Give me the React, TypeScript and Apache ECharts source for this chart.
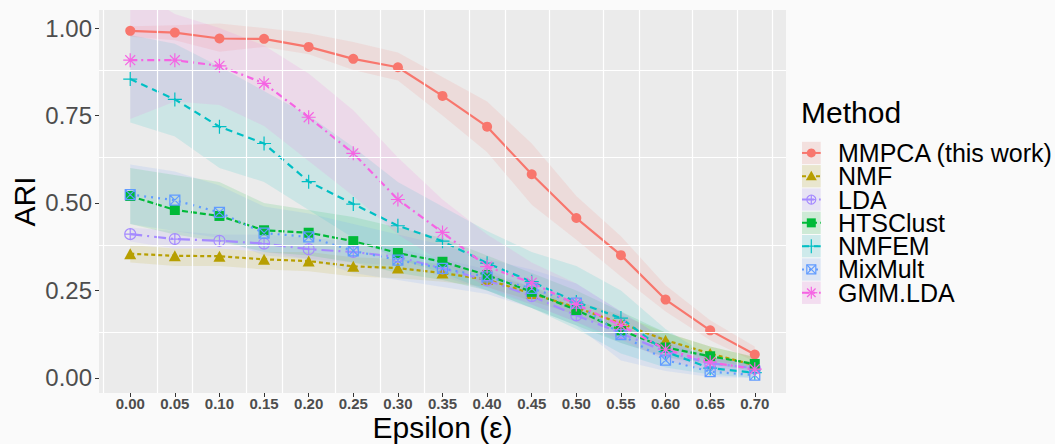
import React, { useEffect, useRef } from "react";
import * as echarts from "echarts";

// ---- data ----
const eps = [0.0, 0.05, 0.1, 0.15, 0.2, 0.25, 0.3, 0.35, 0.4, 0.45, 0.5, 0.55, 0.6, 0.65, 0.7];
const yTicks = [0, 0.25, 0.5, 0.75, 1.0];
const xGrid = [-0.025, 0.025, 0.075, 0.125, 0.175, 0.225, 0.275, 0.325, 0.375, 0.425, 0.475, 0.525, 0.575, 0.625, 0.675, 0.725];
const yGrid = [0.125, 0.375, 0.625, 0.875];

const mmpca = [0.992, 0.987, 0.97, 0.969, 0.946, 0.912, 0.888, 0.806, 0.718, 0.582, 0.457, 0.351, 0.224, 0.136, 0.067];
const mmpcaLo = [0.975, 0.965, 0.932, 0.946, 0.925, 0.88, 0.85, 0.75, 0.645, 0.495, 0.395, 0.29, 0.19, 0.108, 0.046];
const mmpcaHi = [1.005, 1.008, 1.013, 1.0, 0.985, 0.96, 0.93, 0.86, 0.79, 0.67, 0.52, 0.405, 0.265, 0.165, 0.09];

const nmf = [0.355, 0.349, 0.348, 0.339, 0.334, 0.319, 0.314, 0.3, 0.281, 0.241, 0.201, 0.156, 0.108, 0.07, 0.036];
const nmfLo = [0.33, 0.32, 0.32, 0.31, 0.305, 0.29, 0.285, 0.275, 0.26, 0.22, 0.18, 0.13, 0.09, 0.05, 0.03];
const nmfHi = [0.38, 0.37, 0.37, 0.36, 0.36, 0.345, 0.34, 0.325, 0.3, 0.26, 0.22, 0.18, 0.13, 0.09, 0.06];

const lda = [0.411, 0.397, 0.392, 0.384, 0.368, 0.36, 0.346, 0.313, 0.279, 0.234, 0.179, 0.128, 0.075, 0.042, 0.028];
const ldaLo = [0.39, 0.37, 0.37, 0.36, 0.34, 0.33, 0.32, 0.29, 0.25, 0.21, 0.16, 0.1, 0.06, 0.03, 0.02];
const ldaHi = [0.43, 0.42, 0.41, 0.41, 0.4, 0.39, 0.37, 0.34, 0.31, 0.26, 0.2, 0.15, 0.1, 0.06, 0.04];

const hts = [0.52, 0.48, 0.463, 0.422, 0.415, 0.391, 0.357, 0.332, 0.294, 0.246, 0.194, 0.136, 0.087, 0.062, 0.04];
const htsLo = [0.44, 0.41, 0.39, 0.36, 0.35, 0.33, 0.3, 0.28, 0.25, 0.2, 0.15, 0.1, 0.06, 0.04, 0.02];
const htsHi = [0.6, 0.58, 0.56, 0.5, 0.48, 0.46, 0.43, 0.4, 0.35, 0.3, 0.25, 0.19, 0.13, 0.09, 0.06];

const nmfem = [0.854, 0.796, 0.718, 0.67, 0.561, 0.497, 0.435, 0.391, 0.328, 0.275, 0.217, 0.171, 0.075, 0.028, 0.015];
const nmfemLo = [0.73, 0.69, 0.6, 0.56, 0.48, 0.4, 0.34, 0.3, 0.25, 0.2, 0.14, 0.07, 0.03, 0.01, 0.0];
const nmfemHi = [0.98, 0.955, 0.89, 0.82, 0.75, 0.66, 0.56, 0.49, 0.42, 0.36, 0.32, 0.25, 0.14, 0.06, 0.04];

const mixmult = [0.524, 0.508, 0.473, 0.414, 0.403, 0.363, 0.337, 0.313, 0.289, 0.256, 0.214, 0.124, 0.051, 0.018, 0.008];
const mixmultLo = [0.44, 0.42, 0.4, 0.35, 0.34, 0.3, 0.28, 0.26, 0.24, 0.2, 0.15, 0.05, 0.02, 0.003, 0.0];
const mixmultHi = [0.61, 0.59, 0.55, 0.49, 0.47, 0.44, 0.41, 0.38, 0.34, 0.31, 0.27, 0.19, 0.11, 0.06, 0.04];

const gmm = [0.908, 0.908, 0.892, 0.842, 0.745, 0.642, 0.51, 0.416, 0.318, 0.272, 0.21, 0.15, 0.082, 0.045, 0.025];
const gmmLo = [0.74, 0.79, 0.78, 0.72, 0.62, 0.52, 0.41, 0.33, 0.26, 0.21, 0.16, 0.11, 0.05, 0.02, 0.01];
const gmmHi = [1.12, 1.04, 1.0, 0.95, 0.87, 0.765, 0.63, 0.51, 0.41, 0.33, 0.27, 0.19, 0.11, 0.06, 0.04];

const methodNames = ["MMPCA (this work)", "NMF", "LDA", "HTSClust", "NMFEM", "MixMult", "GMM.LDA"];
const methodValues = [mmpca, nmf, lda, hts, nmfem, mixmult, gmm];
const methodLo = [mmpcaLo, nmfLo, ldaLo, htsLo, nmfemLo, mixmultLo, gmmLo];
const methodHi = [mmpcaHi, nmfHi, ldaHi, htsHi, nmfemHi, mixmultHi, gmmHi];

// ---- styles ----
const FONT = "'Liberation Sans', Arial, Helvetica, sans-serif";
const STYLES = [
  { color: "#F8766D", shape: "circle", dash: "solid" as any },
  { color: "#B79F00", shape: "triangle", dash: [4, 3] },
  { color: "#A58AFF", shape: "oplus", dash: [12, 5, 2, 5] },
  { color: "#00BA38", shape: "square", dash: [6, 3] },
  { color: "#00BFC4", shape: "plus", dash: [7, 5] },
  { color: "#619CFF", shape: "boxx", dash: [2, 5] },
  { color: "#F564E3", shape: "asterisk", dash: [7, 4, 2, 4] },
];

const SYMBOLS: Record<string, { symbol: string; size: any; filled: boolean }> = {
  circle: { symbol: "circle", size: 10, filled: true },
  triangle: { symbol: "triangle", size: [12, 11], filled: true },
  square: { symbol: "rect", size: 10, filled: true },
  oplus: { symbol: "path://M0,5A5,5,0,1,1,10,5A5,5,0,1,1,0,5ZM0,5L10,5M5,0L5,10", size: 11, filled: false },
  plus: { symbol: "path://M5,0L5,10M0,5L10,5", size: 14, filled: false },
  boxx: { symbol: "path://M0,0L10,0L10,10L0,10ZM0,0L10,10M10,0L0,10", size: 10, filled: false },
  asterisk: {
    symbol: "path://M5,0L5,10M0,5L10,5M1.46,1.46L8.54,8.54M8.54,1.46L1.46,8.54",
    size: 14,
    filled: false,
  },
};

function markerEls(shape: string, cx: number, cy: number, color: string): any[] {
  const lw = 1.2;
  const st = { stroke: color, lineWidth: lw, fill: "none" };
  switch (shape) {
    case "circle":
      return [{ type: "circle", shape: { cx, cy, r: 4.5 }, style: { fill: color } }];
    case "triangle":
      return [
        { type: "polygon", shape: { points: [[cx, cy - 5.5], [cx + 5.5, cy + 4], [cx - 5.5, cy + 4]] }, style: { fill: color } },
      ];
    case "square":
      return [{ type: "rect", shape: { x: cx - 4.5, y: cy - 4.5, width: 9, height: 9 }, style: { fill: color } }];
    case "oplus":
      return [
        { type: "circle", shape: { cx, cy, r: 4.5 }, style: st },
        { type: "line", shape: { x1: cx - 4.5, y1: cy, x2: cx + 4.5, y2: cy }, style: st },
        { type: "line", shape: { x1: cx, y1: cy - 4.5, x2: cx, y2: cy + 4.5 }, style: st },
      ];
    case "plus":
      return [
        { type: "line", shape: { x1: cx - 7, y1: cy, x2: cx + 7, y2: cy }, style: st },
        { type: "line", shape: { x1: cx, y1: cy - 7, x2: cx, y2: cy + 7 }, style: st },
      ];
    case "boxx":
      return [
        { type: "rect", shape: { x: cx - 4.5, y: cy - 4.5, width: 9, height: 9 }, style: st },
        { type: "line", shape: { x1: cx - 4.5, y1: cy - 4.5, x2: cx + 4.5, y2: cy + 4.5 }, style: st },
        { type: "line", shape: { x1: cx + 4.5, y1: cy - 4.5, x2: cx - 4.5, y2: cy + 4.5 }, style: st },
      ];
    case "asterisk":
    default: {
      const r = 6, d = 4.25;
      return [
        { type: "line", shape: { x1: cx - r, y1: cy, x2: cx + r, y2: cy }, style: st },
        { type: "line", shape: { x1: cx, y1: cy - r, x2: cx, y2: cy + r }, style: st },
        { type: "line", shape: { x1: cx - d, y1: cy - d, x2: cx + d, y2: cy + d }, style: st },
        { type: "line", shape: { x1: cx + d, y1: cy - d, x2: cx - d, y2: cy + d }, style: st },
      ];
    }
  }
}

function buildOption() {
  const series: any[] = [];

  // gridlines (minor positions only, as in the reference)
  series.push({
    type: "line",
    data: [[-1, -1]],
    symbol: "none",
    silent: true,
    z: 1,
    lineStyle: { opacity: 0 },
    markLine: {
      silent: true,
      symbol: ["none", "none"],
      label: { show: false },
      lineStyle: { color: "#FFFFFF", width: 1.2, type: "solid" },
      emphasis: { disabled: true },
      data: [...xGrid.map((v) => ({ xAxis: v })), ...yGrid.map((v) => ({ yAxis: v }))],
    },
  });

  // ribbons (custom polygons through the axes' scales)
  methodNames.forEach((name, i) => {
    const st = STYLES[i];
    const lo = methodLo[i];
    const hi = methodHi[i];
    series.push({
      type: "custom",
      name: name + "_band",
      silent: true,
      clip: true,
      z: 2,
      data: [[eps[0], lo[0]]],
      encode: { x: 0, y: 1 },
      renderItem: (params: any, api: any) => {
        const upper = eps.map((x, j) => api.coord([x, hi[j]]));
        const lower = eps.map((x, j) => api.coord([x, lo[j]])).reverse();
        return {
          type: "polygon",
          shape: { points: upper.concat(lower) },
          style: { fill: st.color, opacity: 0.13 },
        };
      },
    });
  });

  // lines + markers
  methodNames.forEach((name, i) => {
    const st = STYLES[i];
    const sym = SYMBOLS[st.shape];
    series.push({
      type: "line",
      name,
      data: eps.map((x, j) => [x, methodValues[i][j]]),
      symbol: sym.symbol,
      symbolSize: sym.size,
      showSymbol: true,
      showAllSymbol: true,
      z: 3,
      lineStyle: { color: st.color, width: 2.2, type: st.dash },
      itemStyle: sym.filled
        ? { color: st.color }
        : { color: "none", borderColor: st.color, borderWidth: 1.2 },
      emphasis: { disabled: true },
    });
  });

  // legend & titles
  const graphic: any[] = [];
  graphic.push({
    type: "text",
    x: 442.5,
    y: 427,
    style: { text: "Epsilon (ε)", font: `30px ${FONT}`, fill: "#000", align: "center", verticalAlign: "middle", lineHeight: 28 },
  });
  graphic.push({
    type: "text",
    x: 24.6,
    y: 201.5,
    rotation: Math.PI / 2,
    style: { text: "ARI", font: `30px ${FONT}`, fill: "#000", align: "center", verticalAlign: "middle" },
  });
  graphic.push({
    type: "text",
    x: 801,
    y: 112,
    style: { text: "Method", font: `30px ${FONT}`, fill: "#000", align: "left", verticalAlign: "middle" },
  });
  const keyTop = 141.3;
  const rowH = 23.3;
  methodNames.forEach((name, i) => {
    const st = STYLES[i];
    const top = keyTop + i * rowH;
    const cy = top + rowH / 2;
    const children: any[] = [
      { type: "rect", shape: { x: 802, y: top + 0.5, width: 18.7, height: rowH - 1 }, style: { fill: "#F2F2F2" } },
      { type: "rect", shape: { x: 802, y: top + 0.5, width: 18.7, height: rowH - 1 }, style: { fill: st.color, opacity: 0.15 } },
      {
        type: "line",
        shape: { x1: 802, y1: cy, x2: 820.7, y2: cy },
        style: { stroke: st.color, lineWidth: 2, lineDash: st.dash === "solid" ? null : st.dash },
      },
      ...markerEls(st.shape, 811.3, cy, st.color),
      {
        type: "text",
        x: 838,
        y: cy,
        style: { text: name, font: `25px ${FONT}`, fill: "#000", align: "left", verticalAlign: "middle", lineHeight: 22 },
      },
    ];
    graphic.push({ type: "group", children });
  });

  return {
    animation: false,
    backgroundColor: "#FAFAFA",
    textStyle: { fontFamily: FONT },
    grid: { left: 99, top: 10, width: 687, height: 383, show: true, backgroundColor: "#EBEBEB", borderWidth: 0 },
    xAxis: {
      type: "value",
      min: -0.035,
      max: 0.735,
      axisLine: { show: false, onZero: false },
      splitLine: { show: false },
      axisTick: { show: true, customValues: eps, length: 4, lineStyle: { color: "#333333", width: 1 } },
      axisLabel: {
        customValues: eps,
        formatter: (v: number) => v.toFixed(2),
        fontSize: 15,
        fontWeight: "bold",
        color: "#4D4D4D",
        margin: 3,
        fontFamily: FONT,
      },
    },
    yAxis: {
      type: "value",
      min: -0.043,
      max: 1.0515,
      axisLine: { show: false, onZero: false },
      splitLine: { show: false },
      axisTick: { show: true, customValues: yTicks, length: 4, lineStyle: { color: "#333333", width: 1 } },
      axisLabel: {
        customValues: yTicks,
        formatter: (v: number) => v.toFixed(2),
        fontSize: 24,
        color: "#4D4D4D",
        margin: 7,
        fontFamily: FONT,
      },
    },
    series,
    graphic,
  };
}

export default function App() {
  const ref = useRef<HTMLDivElement>(null);
  useEffect(() => {
    document.body.style.margin = "0";
    if (!ref.current) return;
    const chart = echarts.init(ref.current, undefined, { renderer: "svg" });
    chart.setOption(buildOption() as any);
    return () => chart.dispose();
  }, []);
  return <div ref={ref} style={{ width: 1055, height: 444 }} />;
}
